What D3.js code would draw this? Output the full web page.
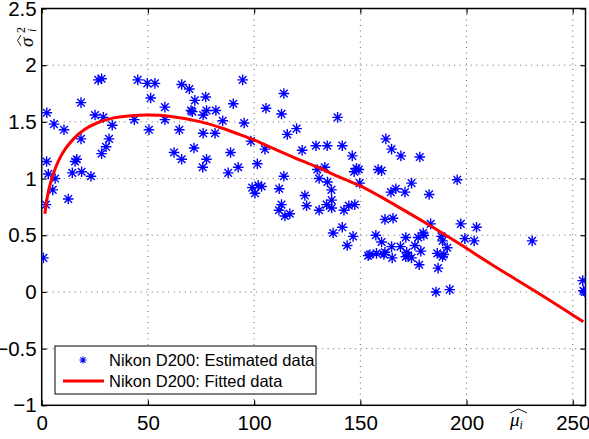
<!DOCTYPE html>
<html>
<head>
<meta charset="utf-8">
<script src="https://cdn.jsdelivr.net/npm/d3@7"></script>
<style>
  body { margin: 0; background: #fff; }
  svg { display: block; }
</style>
</head>
<body>
<svg id="chart" width="589" height="439"></svg>
<script>
// estimated (mu, sigma^2) pairs
const estMu = [0.8, 2.0, 2.3, 2.4, 3.1, 5.2, 5.8, 6.3, 10.5, 12.5, 14.4, 15.7, 16.5, 18.5, 18.5, 18.8, 23.2, 25.1, 26.6, 28.2,
  28.2, 29.0, 30.3, 31.7, 33.2, 43.6, 45.2, 49.7, 50.5, 51.3, 53.3, 58.0, 58.0, 62.3, 64.8, 65.9, 65.9, 69.5, 70.3, 70.9,
  71.7, 72.1, 75.8, 76.0, 76.0, 77.2, 77.6, 77.6, 81.6, 82.0, 85.2, 87.8, 88.9, 90.2, 92.5, 94.6, 95.3, 98.5, 99.1, 100.4,
  101.5, 101.9, 103.5, 105.1, 105.6, 111.7, 111.8, 112.9, 112.9, 114.0, 114.0, 114.5, 115.6, 116.8, 120.0, 122.6, 123.9, 124.7, 129.1, 129.7,
  130.6, 130.6, 133.3, 134.1, 134.4, 134.5, 136.4, 136.5, 136.5, 137.2, 139.3, 141.5, 141.5, 142.3, 143.8, 144.6, 146.2, 146.6, 147.1, 147.4,
  148.2, 149.3, 149.7, 153.7, 154.5, 157.3, 157.6, 158.4, 160.0, 160.0, 161.1, 161.6, 161.6, 162.0, 164.4, 164.7, 164.7, 165.0, 165.4, 166.7,
  168.9, 169.1, 171.0, 171.4, 171.4, 171.8, 172.5, 174.1, 174.1, 175.7, 177.2, 177.7, 178.0, 178.5, 179.6, 179.9, 182.4, 183.1, 185.6, 186.2,
  186.6, 188.2, 188.7, 188.7, 189.3, 190.9, 192.1, 195.6, 197.3, 199.2, 203.6, 204.7, 230.9, 254.7, 255.0, 255.7];
const estVar = [0.30, 0.77, 1.15, 1.58, 1.04, 0.90, 1.48, 1.00, 1.43, 0.82, 1.05, 1.15, 1.17, 1.67, 1.35, 1.06, 1.02, 1.56, 1.87, 1.88,
  1.22, 1.54, 1.28, 1.35, 1.47, 1.52, 1.87, 1.84, 1.43, 1.71, 1.84, 1.63, 1.52, 1.23, 1.43, 1.83, 1.17, 1.79, 1.60, 1.59,
  1.27, 1.69, 1.10, 1.56, 1.40, 1.72, 1.60, 1.17, 1.40, 1.60, 1.51, 1.05, 1.23, 1.66, 1.10, 1.87, 1.49, 1.33, 0.92, 0.87,
  1.13, 0.94, 0.93, 1.26, 1.62, 0.72, 0.91, 1.57, 0.77, 1.75, 1.02, 0.67, 1.39, 0.69, 1.44, 1.25, 0.85, 0.76, 1.29, 1.08,
  1.00, 0.72, 1.10, 0.77, 1.29, 0.97, 0.90, 0.81, 0.74, 0.52, 1.54, 1.29, 0.57, 0.72, 0.41, 0.76, 1.20, 0.49, 1.06, 0.77,
  1.09, 1.08, 0.96, 0.32, 0.33, 0.50, 0.34, 1.08, 1.07, 0.44, 0.33, 0.64, 0.35, 1.35, 0.88, 1.26, 0.40, 0.30, 0.65, 0.91,
  0.40, 1.20, 0.88, 0.48, 0.31, 0.35, 0.32, 0.96, 0.30, 0.41, 0.48, 0.24, 1.19, 0.36, 0.52, 0.50, 0.86, 0.60, 0.00, 0.34,
  0.21, 0.49, 0.45, 0.31, 0.33, 0.39, 0.02, 0.99, 0.60, 0.47, 0.45, 0.57, 0.45, 0.10, 0.01, 0.00];

// fitted curve, sampled off the figure
const fitMu = [1.5, 3, 5.5, 10, 15, 20, 26, 34, 42, 50, 60, 75, 84, 93, 100, 106, 114, 122, 130, 137,
  145, 150, 159, 166, 181, 197, 212, 235, 255];
const fitVar = [0.69, 0.87, 1.045, 1.23, 1.35, 1.43, 1.49, 1.535, 1.555, 1.56, 1.55, 1.50, 1.45, 1.39, 1.34, 1.29, 1.225, 1.16, 1.10, 1.04,
  0.975, 0.935, 0.845, 0.77, 0.605, 0.42, 0.24, -0.025, -0.264];

const xTicks = [0, 50, 100, 150, 200, 250];
const yTicks = [-1, -0.5, 0, 0.5, 1, 1.5, 2, 2.5];
const legendLabels = ["Nikon D200: Estimated data", "Nikon D200: Fitted data"];

const pLeft = 41.7, pRight = 585.5, pTop = 8.5, pBottom = 405.3;
const sans = "'Liberation Sans', Arial, Helvetica, sans-serif";
const serif = "'Liberation Serif', 'DejaVu Serif', serif";

const x = d3.scaleLinear().domain([0, 256]).range([pLeft, pRight]);
const y = d3.scaleLinear().domain([-1, 2.5]).range([pBottom, pTop]);

const svg = d3.select("#chart");

svg.append("defs").append("clipPath").attr("id", "plot")
  .append("rect")
  .attr("x", pLeft).attr("y", pTop)
  .attr("width", pRight - pLeft).attr("height", pBottom - pTop);

// dotted grid
const grid = svg.append("g")
  .attr("stroke", "#000")
  .attr("stroke-opacity", 0.6)
  .attr("stroke-width", 1)
  .attr("stroke-dasharray", "1,4.5");

grid.selectAll(".gx").data(xTicks.filter(d => d > 0)).enter()
  .append("line")
  .attr("x1", d => x(d)).attr("x2", d => x(d))
  .attr("y1", pTop).attr("y2", pBottom);

grid.selectAll(".gy").data(yTicks.filter(d => d > -1 && d < 2.5)).enter()
  .append("line")
  .attr("x1", pLeft).attr("x2", pRight)
  .attr("y1", d => y(d)).attr("y2", d => y(d));

// axes, ticks pointing inward
const fmt = d3.format("~g");
function styleAxis(g) {
  g.select(".domain").remove();
  g.selectAll("line").attr("stroke", "#000").attr("stroke-width", 1.2);
  g.selectAll("text").attr("fill", "#000").attr("font-family", sans).attr("font-size", 20.5);
}

svg.append("g").attr("transform", `translate(0,${pBottom})`)
  .call(d3.axisBottom(x).tickValues(xTicks).tickSize(-5).tickPadding(10).tickFormat(fmt))
  .call(styleAxis);
svg.append("g").attr("transform", `translate(${pLeft},0)`)
  .call(d3.axisLeft(y).tickValues(yTicks).tickSize(-5).tickPadding(5).tickFormat(fmt))
  .call(styleAxis);
svg.append("g").attr("transform", `translate(0,${pTop})`)
  .call(d3.axisTop(x).tickValues(xTicks).tickSize(-5).tickFormat(""))
  .call(styleAxis);
svg.append("g").attr("transform", `translate(${pRight},0)`)
  .call(d3.axisRight(y).tickValues(yTicks).tickSize(-5).tickFormat(""))
  .call(styleAxis);

svg.append("rect")
  .attr("x", pLeft).attr("y", pTop)
  .attr("width", pRight - pLeft).attr("height", pBottom - pTop)
  .attr("fill", "none")
  .attr("stroke", "#000")
  .attr("stroke-width", 1.5);

// asterisk marker
function star(r) {
  const d = r * 0.72;
  return `M${-r},0H${r}M0,${-r}V${r}M${-d},${-d}L${d},${d}M${-d},${d}L${d},${-d}`;
}

const plot = svg.append("g").attr("clip-path", "url(#plot)");

plot.append("g")
  .selectAll("path")
  .data(d3.zip(estMu, estVar))
  .join("path")
  .attr("transform", d => `translate(${x(d[0])},${y(d[1])})`)
  .attr("d", star(5.3))
  .attr("fill", "none")
  .attr("stroke", "#0000ff")
  .attr("stroke-width", 1.4);

const line = d3.line()
  .x(d => x(d[0]))
  .y(d => y(d[1]))
  .curve(d3.curveCatmullRom.alpha(0.5));

plot.append("path")
  .datum(d3.zip(fitMu, fitVar))
  .attr("d", line)
  .attr("fill", "none")
  .attr("stroke", "#ff0000")
  .attr("stroke-width", 3);

// legend
const lg = svg.append("g");
lg.append("rect")
  .attr("x", 55).attr("y", 346)
  .attr("width", 261).attr("height", 48)
  .attr("fill", "#fff")
  .attr("stroke", "#000")
  .attr("stroke-width", 1);
lg.append("path")
  .attr("transform", "translate(83,360)")
  .attr("d", star(3.6))
  .attr("fill", "none")
  .attr("stroke", "#0000ff")
  .attr("stroke-width", 1.1);
lg.append("line")
  .attr("x1", 63).attr("x2", 104)
  .attr("y1", 381).attr("y2", 381)
  .attr("stroke", "#ff0000")
  .attr("stroke-width", 3);
lg.selectAll("text").data(legendLabels).enter()
  .append("text")
  .attr("x", 109)
  .attr("y", (d, i) => 366 + i * 21)
  .attr("font-family", sans)
  .attr("font-size", 16.5)
  .attr("fill", "#000")
  .text(d => d);

// x label: mu hat, subscript i
const xl = svg.append("g").attr("transform", "translate(510,426)");
const xt = xl.append("text")
  .attr("font-family", serif)
  .attr("font-style", "italic")
  .attr("font-size", 19)
  .attr("fill", "#000")
  .text("μ");
xt.append("tspan").attr("font-size", 12).attr("dy", 3).text("i");
xl.append("path")
  .attr("d", "M0,-13L8.5,-17L17,-13")
  .attr("fill", "none")
  .attr("stroke", "#000")
  .attr("stroke-width", 0.9);

// y label: sigma hat, squared, subscript i
const yl = svg.append("g").attr("transform", "translate(33,47) rotate(-90)");
yl.append("text")
  .attr("font-family", serif)
  .attr("font-style", "italic")
  .attr("font-size", 19)
  .attr("fill", "#000")
  .text("σ");
yl.append("text")
  .attr("x", 14).attr("y", -8)
  .attr("font-family", serif)
  .attr("font-size", 12)
  .attr("fill", "#000")
  .text("2");
yl.append("text")
  .attr("x", 15).attr("y", 3)
  .attr("font-family", serif)
  .attr("font-style", "italic")
  .attr("font-size", 12)
  .attr("fill", "#000")
  .text("i");
yl.append("path")
  .attr("d", "M1,-12L6.5,-15.5L12,-12")
  .attr("fill", "none")
  .attr("stroke", "#000")
  .attr("stroke-width", 0.9);
</script>
</body>
</html>
